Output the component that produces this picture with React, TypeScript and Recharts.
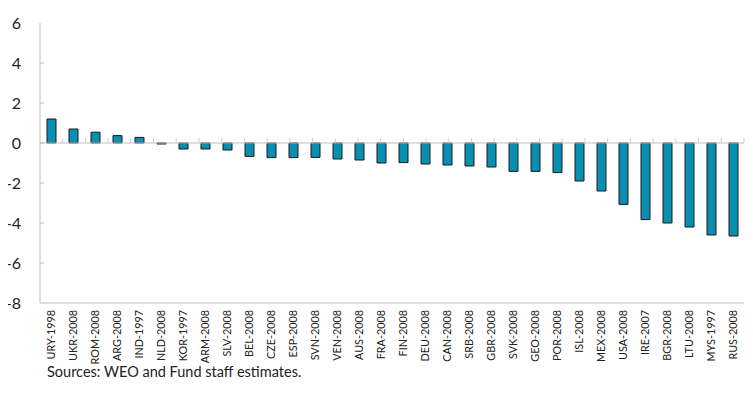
import React from 'react';
import { BarChart, Bar, XAxis, YAxis, ReferenceLine } from 'recharts';

const categories = [
  'URY-1998', 'UKR-2008', 'ROM-2008', 'ARG-2008', 'IND-1997', 'NLD-2008', 'KOR-1997', 'ARM-2008',
  'SLV-2008', 'BEL-2008', 'CZE-2008', 'ESP-2008', 'SVN-2008', 'VEN-2008', 'AUS-2008', 'FRA-2008',
  'FIN-2008', 'DEU-2008', 'CAN-2008', 'SRB-2008', 'GBR-2008', 'SVK-2008', 'GEO-2008', 'POR-2008',
  'ISL-2008', 'MEX-2008', 'USA-2008', 'IRE-2007', 'BGR-2008', 'LTU-2008', 'MYS-1997', 'RUS-2008',
];

const values = [
  1.2, 0.7, 0.54, 0.37, 0.28, -0.05, -0.3, -0.3,
  -0.35, -0.67, -0.73, -0.73, -0.72, -0.8, -0.85, -1.0,
  -0.98, -1.05, -1.1, -1.15, -1.2, -1.42, -1.42, -1.48,
  -1.9, -2.4, -3.07, -3.83, -4.0, -4.2, -4.6, -4.65,
];

const yTicks = [-8, -6, -4, -2, 0, 2, 4, 6];

const data = categories.map((name, i) => ({ name, value: values[i] }));

// boundaries between categories, for the little ticks on the zero line
const boundaries = categories.slice(1).map((_, i) => i + 1);

const AXIS = '#bfbfbf';
const FONT = 'Lato, "Liberation Sans", sans-serif';

const YTick = (props: any) => {
  const { x, y, payload } = props;
  return (
    <g>
      <text x={x} y={y} dy="0.35em" textAnchor="end" fontSize={16} fill="#222" fontFamily={FONT}>
        {payload.value}
      </text>
      {payload.value !== 6 && payload.value !== -8 && (
        <line x1={x + 19} x2={x + 23} y1={y} y2={y} stroke={AXIS} />
      )}
    </g>
  );
};

const XTick = (props: any) => {
  const { x, y, payload } = props;
  return (
    <text
      x={x}
      y={y}
      dy="0.35em"
      textAnchor="end"
      fontSize={10.8}
      fill="#222"
      fontFamily={FONT}
      transform={`rotate(-90, ${x}, ${y})`}
    >
      {payload.value}
    </text>
  );
};

export default function App() {
  return (
    <div style={{ position: 'relative', width: 753, height: 404, margin: -8, background: '#fff' }}>
      <BarChart
        width={753}
        height={404}
        data={data}
        margin={{ top: 23, right: 9, left: 0, bottom: 0 }}
        barCategoryGap={0}
      >
        <XAxis
          dataKey="name"
          interval={0}
          height={101}
          tickLine={false}
          tickSize={0}
          tickMargin={7}
          axisLine={{ stroke: AXIS }}
          tick={<XTick />}
        />
        <XAxis xAxisId="top" dataKey="name" orientation="top" height={0} tick={false} tickLine={false} axisLine={{ stroke: AXIS }} />
        <XAxis xAxisId="num" type="number" domain={[0, categories.length]} hide />
        <YAxis
          domain={[-8, 6]}
          ticks={yTicks}
          width={40}
          tickLine={false}
          tickSize={0}
          tickMargin={19}
          axisLine={{ stroke: AXIS }}
          tick={<YTick />}
          interval={0}
        />
        <YAxis yAxisId="right" orientation="right" width={0} tick={false} tickLine={false} axisLine={{ stroke: AXIS }} />
        <ReferenceLine y={0} stroke={AXIS} />
        {boundaries.map((b) => (
          <ReferenceLine
            key={b}
            xAxisId="num"
            segment={[{ x: b, y: 0 }, { x: b, y: 0.25 }]}
            stroke="#cfcfcf"
          />
        ))}
        <Bar dataKey="value" fill="#0a8eb1" stroke="#1a1a1a" strokeWidth={1} barSize={9} isAnimationActive={false} />
      </BarChart>
      <div
        style={{
          position: 'absolute',
          left: 47,
          top: 363,
          fontFamily: FONT,
          fontSize: 14.5,
          color: '#222',
        }}
      >
        Sources: WEO and Fund staff estimates.
      </div>
    </div>
  );
}
